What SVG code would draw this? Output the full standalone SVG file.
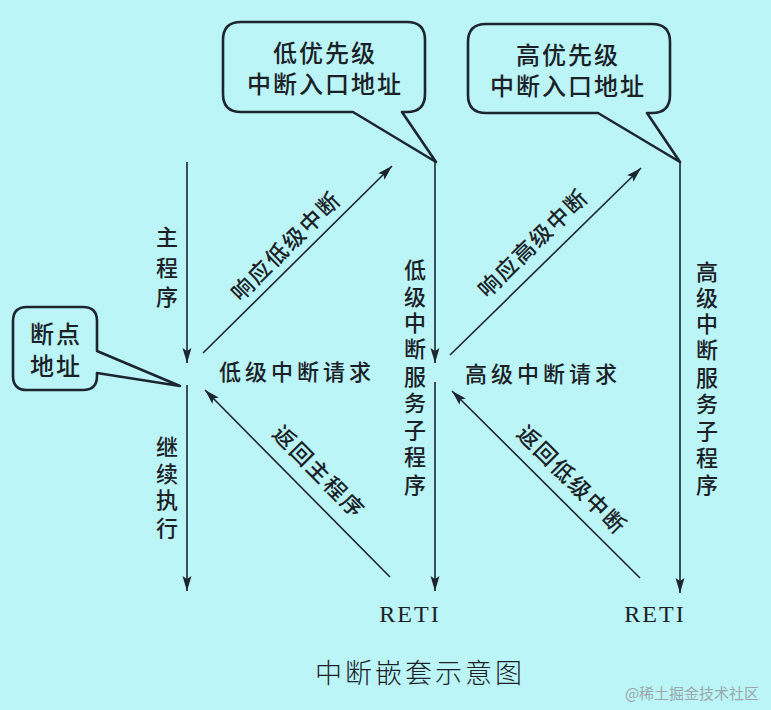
<svg xmlns="http://www.w3.org/2000/svg" width="771" height="710" viewBox="0 0 771 710">
<defs>
<marker id="ah" markerWidth="16" markerHeight="10" refX="15" refY="4.5" orient="auto" markerUnits="userSpaceOnUse">
<path d="M0,0 L15,4.5 L0,9 L3,4.5 Z" fill="#1c2630"/>
</marker>
<style>
.bg{fill:#bbf5f7}
.ln{stroke:#1c2630;stroke-width:1.6;fill:none}
.co{stroke:#1c2630;stroke-width:2.6;fill:#bbf5f7;stroke-linejoin:round}
.t{font-family:"Noto Sans CJK SC","Noto Sans",sans-serif;font-weight:500;fill:#1a2228}
.c{font-size:24px;text-anchor:middle;letter-spacing:2px}
.l{font-size:22px;text-anchor:middle}
.r{font-family:"Liberation Serif",serif;font-size:24px;fill:#1a2228;text-anchor:middle;letter-spacing:2px}
</style>
</defs>
<rect class="bg" x="0" y="0" width="771" height="710"/>

<g id="callout-low">
<path class="co" d="M241,22 H407 Q425,22 425,40 V94 Q425,112 407,112 H402 L436,162 L353,112 H241 Q223,112 223,94 V40 Q223,22 241,22 Z"/>
<text class="t c" x="325" y="62">低优先级</text>
<text class="t c" x="325" y="93">中断入口地址</text>
</g>

<g id="callout-high">
<path class="co" d="M486,24 H652 Q670,24 670,42 V95 Q670,113 652,113 H647 L680,162 L598,113 H486 Q468,113 468,95 V42 Q468,24 486,24 Z"/>
<text class="t c" x="568" y="64">高优先级</text>
<text class="t c" x="568" y="95">中断入口地址</text>
</g>

<g id="callout-bp">
<path class="co" d="M27,307 H83 Q97,307 97,321 V351 L180,386 L97,373 V376 Q97,390 83,390 H27 Q13,390 13,376 V321 Q13,307 27,307 Z"/>
<text class="t c" x="56" y="343">断点</text>
<text class="t c" x="56" y="375">地址</text>
</g>

<g id="connectors">
<line class="ln" x1="187" y1="162" x2="187" y2="363" marker-end="url(#ah)"/>
<line class="ln" x1="187" y1="385" x2="187" y2="591" marker-end="url(#ah)"/>
<line class="ln" x1="435" y1="162" x2="435" y2="363" marker-end="url(#ah)"/>
<line class="ln" x1="435" y1="382" x2="435" y2="591" marker-end="url(#ah)"/>
<line class="ln" x1="680" y1="162" x2="680" y2="593" marker-end="url(#ah)"/>
<line class="ln" x1="203" y1="353" x2="392" y2="166" marker-end="url(#ah)"/>
<line class="ln" x1="390" y1="577" x2="205" y2="390" marker-end="url(#ah)"/>
<line class="ln" x1="450" y1="355" x2="641" y2="168" marker-end="url(#ah)"/>
<line class="ln" x1="640" y1="578" x2="452" y2="391" marker-end="url(#ah)"/>
</g>

<g id="labels">
<text class="t l" x="167"><tspan x="167" y="245">主</tspan><tspan x="167" y="276">程</tspan><tspan x="167" y="305">序</tspan></text>
<text class="t l" x="167"><tspan x="167" y="455">继</tspan><tspan x="167" y="482">续</tspan><tspan x="167" y="508">执</tspan><tspan x="167" y="536">行</tspan></text>
<text class="t l" x="415"><tspan x="415" y="278">低</tspan><tspan x="415" y="305">级</tspan><tspan x="415" y="331">中</tspan><tspan x="415" y="357">断</tspan><tspan x="415" y="385">服</tspan><tspan x="415" y="411">务</tspan><tspan x="415" y="438">子</tspan><tspan x="415" y="465">程</tspan><tspan x="415" y="493">序</tspan></text>
<text class="t l" x="707"><tspan x="707" y="280">高</tspan><tspan x="707" y="306">级</tspan><tspan x="707" y="332">中</tspan><tspan x="707" y="358">断</tspan><tspan x="707" y="386">服</tspan><tspan x="707" y="412">务</tspan><tspan x="707" y="439">子</tspan><tspan x="707" y="466">程</tspan><tspan x="707" y="493">序</tspan></text>
<text class="t l" x="297" y="380" style="letter-spacing:4px">低级中断请求</text>
<text class="t l" x="543" y="382" style="letter-spacing:4px">高级中断请求</text>
<text class="t l" transform="translate(286,246) rotate(-44.8)" y="8" style="letter-spacing:2px">响应低级中断</text>
<text class="t l" transform="translate(533,243) rotate(-44.4)" y="8" style="letter-spacing:2px">响应高级中断</text>
<text class="t l" transform="translate(319,472) rotate(45.3)" y="8" style="letter-spacing:2px">返回主程序</text>
<text class="t l" transform="translate(572,480) rotate(44.8)" y="8" style="letter-spacing:2px">返回低级中断</text>
<text class="r" x="410" y="622">RETI</text>
<text class="r" x="655" y="622">RETI</text>
<text class="t" x="420" y="683" style="font-size:27px;font-weight:300;text-anchor:middle;letter-spacing:3px">中断嵌套示意图</text>
<text x="692" y="699" style="font-family:'Noto Sans CJK SC',sans-serif;font-size:15px;fill:#9aa8ab;text-anchor:middle">@稀土掘金技术社区</text>
</g>
</svg>
